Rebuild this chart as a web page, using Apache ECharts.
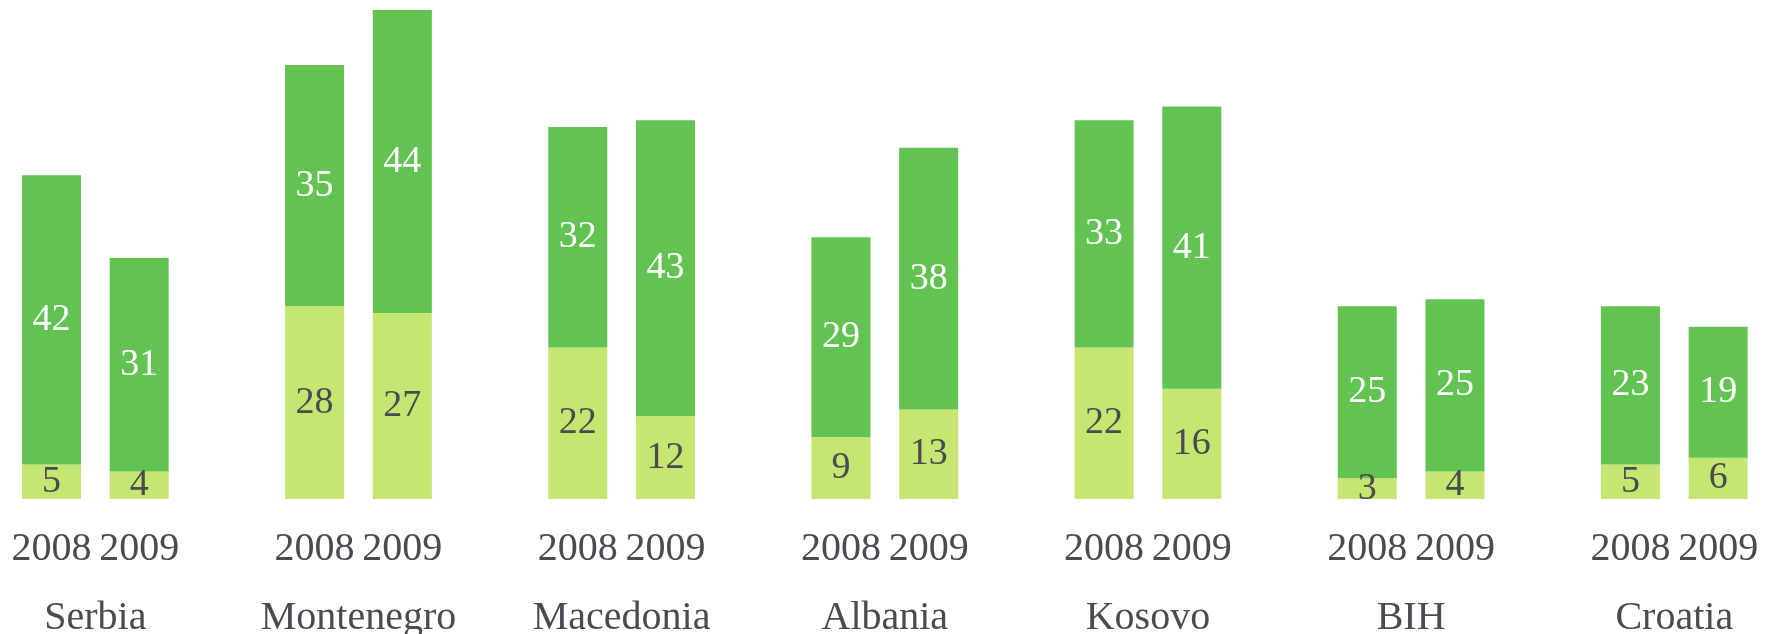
<!DOCTYPE html>
<html><head><meta charset="utf-8">
<script src="https://cdn.jsdelivr.net/npm/echarts@6/dist/echarts.min.js"></script>
<style>html,body{margin:0;padding:0;background:#fff}#c{width:1775px;height:634px}</style>
</head><body><div id="c"></div>
<script>
var countries = ['Serbia','Montenegro','Macedonia','Albania','Kosovo','BIH','Croatia'];
var years = ['2008','2009'];
var lightValues = [[5,4],[28,27],[22,12],[9,13],[22,16],[3,4],[5,6]];
var darkValues = [[42,31],[35,44],[32,43],[29,38],[33,41],[25,25],[23,19]];

var FONT = 'Liberation Serif';
var yearCats = [], lightData = [], darkData = [];
countries.forEach(function(c, g){
  years.forEach(function(y, k){
    yearCats.push(y);
    lightData.push(lightValues[g][k]);
    darkData.push(darkValues[g][k]);
  });
  if (g < countries.length - 1) { yearCats.push(''); lightData.push('-'); darkData.push('-'); }
});
var countryCats = [];
for (var i = 0; i <= yearCats.length; i++) countryCats.push('');
countries.forEach(function(c, g){ countryCats[1 + 3*g] = c; });

var chart = echarts.init(document.getElementById('c'));
chart.setOption({
  animation: false,
  grid: { left: 7.6, right: 13, top: 10, bottom: 135, containLabel: false, outerBoundsMode: 'none' },
  xAxis: [
    { type: 'category', data: yearCats, boundaryGap: true,
      axisLine: {show:false}, axisTick: {show:false},
      axisLabel: { interval: 0, margin: 30, fontFamily: FONT, fontSize: 40, color: '#4a4b50' } },
    { type: 'category', data: countryCats, boundaryGap: false, position: 'bottom',
      axisLine: {show:false}, axisTick: {show:false},
      axisLabel: { interval: 0, margin: 99, fontFamily: FONT, fontSize: 40, color: '#4a4b50' } }
  ],
  yAxis: { type: 'value', min: 0, max: 71, show: false, splitLine: {show:false} },
  series: [
    { type: 'bar', stack: 's', data: lightData, barWidth: 59, xAxisIndex: 0,
      itemStyle: { color: '#C5E670' },
      label: { show: true, position: 'inside', fontFamily: FONT, fontSize: 38, color: '#4a4b50' } },
    { type: 'bar', stack: 's', data: darkData, barWidth: 59, xAxisIndex: 0,
      itemStyle: { color: '#62C252' },
      label: { show: true, position: 'inside', fontFamily: FONT, fontSize: 38, color: '#ffffff' } }
  ]
});
</script></body></html>
